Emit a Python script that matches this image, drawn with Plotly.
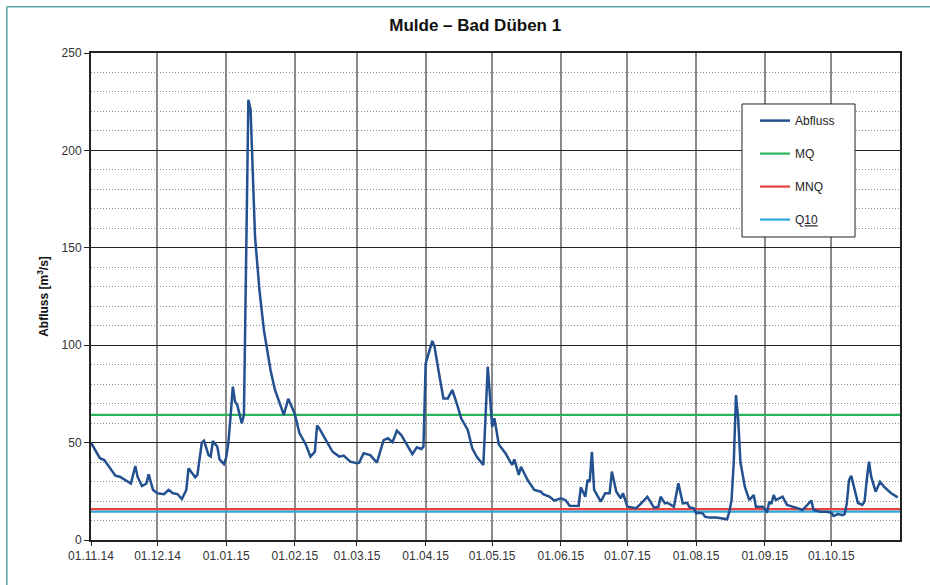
import pandas as pd
import plotly.graph_objects as go

START = "2014-11-01"
END = "2015-11-01"

# day offsets from 01.11.14 and discharge [m3/s]
day = [0, 4, 6, 11, 13, 18, 20, 21, 23, 25, 26, 28, 30, 33, 35, 37, 39, 41, 43, 44,
       47, 48, 50, 51, 53, 54, 55, 57, 58, 60, 61, 62, 63, 64, 65, 66, 68, 69, 71, 72,
       74, 76, 78, 81, 83, 86, 87, 89, 90, 92, 94, 97, 99, 101, 102, 103, 106, 109, 112, 114,
       117, 120, 121, 123, 126, 129, 132, 134, 136, 138, 140, 143, 145, 147, 149, 150, 151, 154, 155, 157,
       159, 161, 163, 165, 167, 170, 172, 174, 177, 178, 179, 180, 181, 182, 184, 187, 190, 191, 193, 194,
       197, 200, 203, 204, 207, 209, 212, 214, 216, 220, 221, 223, 224, 225, 226, 227, 230, 232, 234, 235,
       237, 239, 240, 242, 246, 249, 251, 254, 256, 257, 259, 260, 262, 263, 265, 267, 269, 270, 272, 273,
       274, 276, 277, 279, 282, 285, 287, 288, 289, 290, 291, 292, 293, 295, 297, 299, 300, 303, 304, 305,
       306, 307, 308, 309, 311, 312, 314, 316, 318, 321, 323, 325, 326, 329, 332, 334, 335, 337, 339, 340,
       341, 342, 343, 345, 346, 348, 349, 350, 351, 352, 354, 356, 358, 361, 364]
abfluss = [50, 42, 41, 33, 32.5, 29, 38, 32.5, 27.7, 29, 33.7, 25.7, 24, 23.5, 25.7, 24, 23.6, 21, 25.7, 36.8,
           32.2, 33.4, 50, 51, 43.6, 42.8, 50.8, 47.9, 41.4, 39, 42.4, 50, 64, 78.7, 71, 69.3, 59.9, 64.2, 226, 221,
           155.7, 128.3, 107.8, 87.3, 77, 66.7, 64.2, 72.5, 70, 64.5, 55, 48.8, 42.8, 45.3, 58.7, 57.3, 51.3, 45.3, 42.8, 43.3,
           40.2, 39.4, 39.7, 44.5, 43.6, 39.7, 51.3, 52.2, 50.2, 56.1, 53.9, 47.6, 44.1, 47.6, 46.7, 47.9, 90.7, 102.2, 99.2, 85.6,
           72.7, 72.7, 77, 70.2, 62.5, 56.5, 47.1, 42.8, 38.5, 63, 89, 74, 58, 62.5, 49, 44.5, 38.5, 41.4, 33.4, 37.6,
           30.8, 25.7, 24.8, 23.5, 22.2, 20.2, 21.4, 20.5, 17.6, 17.5, 27.1, 22.2, 30.8, 29.9, 45.3, 25.7, 19.7, 24, 24, 35.1,
           24.8, 21.4, 24, 17.1, 16.3, 19.7, 22.2, 16.6, 17.1, 22.2, 18.8, 19.1, 17.6, 17.1, 29.1, 18.8, 19.1, 16.8, 16.3, 13.7,
           14, 13.7, 12, 11.5, 11.5, 10.8, 10.6, 14.5, 20.5, 40, 74.4, 62, 40, 27.4, 20.5, 23.1, 17.1, 17.1, 15.9, 14,
           19.7, 18.5, 23.1, 20.5, 21.4, 22.2, 18, 17.1, 16.6, 15.4, 18, 20.2, 15.4, 14.5, 14.5, 14, 12.3, 13.3, 12.8, 13.3,
           18.8, 30.8, 32.9, 24, 19.1, 18, 19.7, 30.8, 40.2, 32.5, 24.8, 29.9, 27.1, 24, 21.9]

MQ = 64.2
MNQ = 15.9
Q10 = 14.6

tick_dates = pd.date_range(START, periods=12, freq="MS")
tick_labels = [d.strftime("%d.%m.%y") for d in tick_dates]

dates = pd.Timestamp(START) + pd.to_timedelta(day, unit="D")

# --- styling ---
FONT = "Liberation Sans, Arial, sans-serif"
BLUE = "#23508e"
GREEN = "#2db35c"
RED = "#e8423f"
CYAN = "#2aa9df"
BORDER = "#5aa3ab"

fig = go.Figure()
line_x = [START, END]
fig.add_trace(go.Scatter(x=line_x, y=[Q10, Q10], mode="lines", name="Q<u>10</u>",
                         line=dict(color=CYAN, width=2.2), legendgroup="q10", legendrank=4))
fig.add_trace(go.Scatter(x=line_x, y=[MNQ, MNQ], mode="lines", name="MNQ",
                         line=dict(color=RED, width=2.2), legendgroup="mnq", legendrank=3))
fig.add_trace(go.Scatter(x=line_x, y=[MQ, MQ], mode="lines", name="MQ",
                         line=dict(color=GREEN, width=2.2), legendgroup="mq", legendrank=2))
fig.add_trace(go.Scatter(x=dates, y=abfluss, mode="lines", name="Abfluss",
                         line=dict(color=BLUE, width=2.5), legendgroup="abf", legendrank=1))

fig.update_layout(
    width=930,
    height=585,
    paper_bgcolor="white",
    plot_bgcolor="white",
    font=dict(family=FONT, size=12, color="#222"),
    margin=dict(l=91, r=30, t=53, b=45),
    title=dict(text="<b>Mulde – Bad Düben 1</b>", x=0.511, xanchor="center", y=0.957,
               yanchor="middle", font=dict(size=17, color="#111")),
    legend=dict(x=0.8208, y=0.891, xanchor="left", yanchor="top", bgcolor="rgba(0,0,0,0)",
                borderwidth=0, tracegroupgap=14,
                font=dict(size=12, color="#222"), itemwidth=30),
    shapes=[
        # outer frame (teal)
        dict(type="line", xref="paper", yref="paper", x0=-0.104, x1=1.2, y0=1.095, y1=1.095,
             line=dict(color=BORDER, width=1.5)),
        dict(type="line", xref="paper", yref="paper", x0=-0.104, x1=-0.104, y0=-0.2, y1=1.095,
             line=dict(color=BORDER, width=1.5)),
        # legend box
        dict(type="rect", xref="paper", yref="paper", x0=0.8047, x1=0.9444, y0=0.6222, y1=0.8953,
             line=dict(color="#222", width=1), fillcolor="white", layer="above"),
    ],
)

fig.update_xaxes(
    type="date",
    range=[START, END],
    tickvals=tick_dates,
    ticktext=tick_labels,
    showgrid=True,
    gridcolor="#8a8a8a",
    gridwidth=1.5,
    showline=True,
    linecolor="#222",
    linewidth=2,
    mirror=True,
    ticks="outside",
    ticklen=4,
    tickcolor="#222",
    tickfont=dict(size=12, color="#333"),
)
fig.update_yaxes(
    range=[0, 250],
    dtick=50,
    showgrid=True,
    gridcolor="#222",
    gridwidth=1.2,
    zeroline=False,
    showline=True,
    linecolor="#222",
    linewidth=2,
    mirror=True,
    ticks="outside",
    ticklen=5,
    tickcolor="#222",
    tickfont=dict(size=12, color="#333"),
    minor=dict(dtick=10, showgrid=True, gridcolor="#8c8c8c", griddash="1px,2px", gridwidth=1),
    title=dict(text="<b>Abfluss [m<sup>3</sup>/s]</b>", font=dict(size=12, color="#111"), standoff=10),
)

# page body margin would shift the chart; remove it
fig.write_html("out.html", config={"displayModeBar": False},
               post_script="document.body.style.margin='0px';")
